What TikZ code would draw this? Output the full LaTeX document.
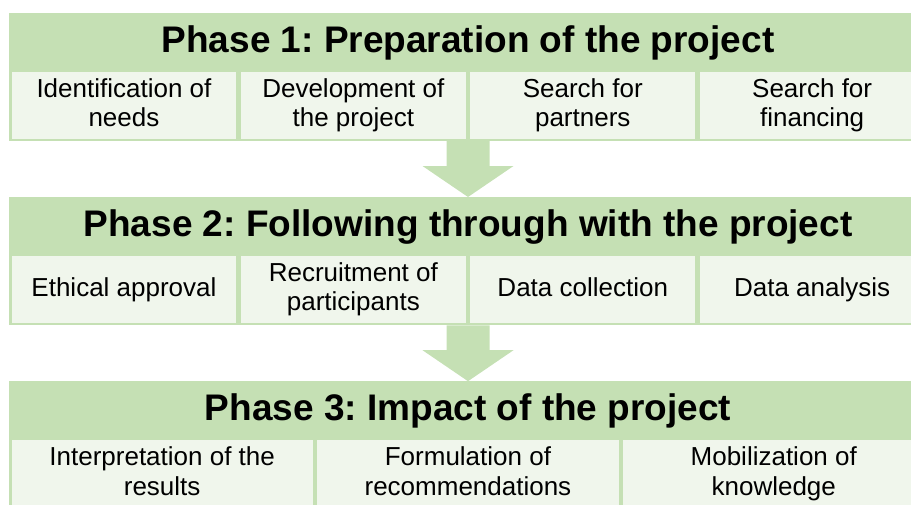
\documentclass[tikz,border=0pt]{standalone}
\usepackage{fontspec}
\setmainfont{Liberation Sans}
\frenchspacing
\usetikzlibrary{positioning,fit,backgrounds}

\definecolor{phasegreen}{HTML}{C5E0B4}
\definecolor{taskgreen}{HTML}{F0F6EC}

\begin{document}
\begin{tikzpicture}[
  x=1pt,y=1pt,
  phase/.style={minimum width=918pt,minimum height=55.5pt,inner sep=0pt,outer sep=0pt,
    font=\fontsize{37}{40}\selectfont\bfseries},
  % struts keep first and last lines at the same height in every cell
  task/.style={fill=taskgreen,minimum height=67pt,inner sep=0pt,outer sep=0pt,align=center,
    font=\fontsize{26}{29.5}\selectfont,
    execute at begin node={\rule{0pt}{20pt}},execute at end node={\rule[-6pt]{0pt}{6pt}}},
  quarter/.style={task,minimum width=224.9pt},
  third/.style={task,minimum width=301.3pt},
  panel/.style={fill=phasegreen,inner xsep=0pt,inner ysep=2pt},
  flow/.style={fill=phasegreen}
]
\useasboundingbox (0,0) rectangle (911,-504);

% phase 1
\node[phase] (p1) at (468,-42.75) {Phase 1: Preparation of the project};
\node[quarter,below right=1.5pt and 2.5pt of p1.south west] (a1) {Identification of\\needs};
\node[quarter,right=4.5pt of a1] (a2) {Development of\\the project};
\node[quarter,right=4.5pt of a2] (a3) {Search for\\partners};
\node[quarter,right=4.5pt of a3] (a4) {Search for\\financing};
\begin{scope}[on background layer]
\node[panel,fit=(p1)(a1)(a4)] (panel1) {};
\end{scope}

% phase 2
\node[phase,below=58pt of panel1.south] (p2) {Phase 2: Following through with the project};
\node[quarter,below right=1.5pt and 2.5pt of p2.south west] (b1) {Ethical approval};
\node[quarter,right=4.5pt of b1] (b2) {Recruitment of\\participants};
\node[quarter,right=4.5pt of b2] (b3) {Data collection};
\node[quarter,right=4.5pt of b3] (b4) {Data analysis};
\begin{scope}[on background layer]
\node[panel,fit=(p2)(b1)(b4)] (panel2) {};
\end{scope}

% phase 3
\node[phase,below=58pt of panel2.south] (p3) {Phase 3: Impact of the project};
\node[third,below right=1.5pt and 2.5pt of p3.south west] (c1) {Interpretation of the\\results};
\node[third,right=4.5pt of c1] (c2) {Formulation of\\recommendations};
\node[third,right=4.5pt of c2] (c3) {Mobilization of\\knowledge};
\begin{scope}[on background layer]
\node[panel,fit=(p3)(c1)(c3)] (panel3) {};
\end{scope}

% block arrows between the phases
\fill[flow] (panel1.south) ++(-21.5,0) -- ++(43,0) -- ([xshift=21.5pt,yshift=31pt]panel2.north)
  -- ++(24,0) -- (panel2.north) -- ++(-45.5,31) -- ++(24,0) -- cycle;
\fill[flow] (panel2.south) ++(-21.5,0) -- ++(43,0) -- ([xshift=21.5pt,yshift=31pt]panel3.north)
  -- ++(24,0) -- (panel3.north) -- ++(-45.5,31) -- ++(24,0) -- cycle;
\end{tikzpicture}
\end{document}
